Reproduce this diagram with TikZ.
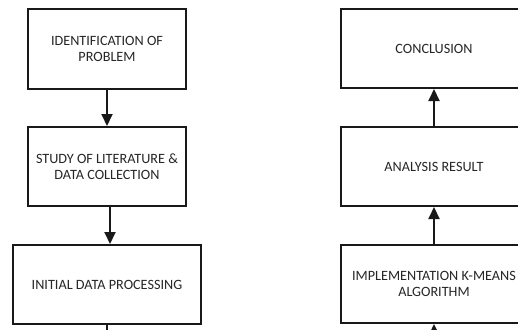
\documentclass[tikz,border=0pt]{standalone}
\usepackage{fontspec}
\setmainfont{Carlito}
\usetikzlibrary{arrows.meta}
\begin{document}
\begin{tikzpicture}[x=1pt,y=-1pt,
  box/.style={draw=black!90, line width=2pt, rectangle, align=center, inner sep=0pt,
    font=\fontsize{14.2}{16}\selectfont, text=black!85},
  conn/.style={line width=2pt, draw=black!90, -{Triangle[length=12pt,width=11pt]}},
  plain/.style={line width=2pt, draw=black!90}]
\useasboundingbox (0,0) rectangle (518,329);
\clip (0,0) rectangle (518,329);
\fill[white] (0,0) rectangle (518,329);
\node[box, minimum width=158pt, minimum height=80pt] (b1) at (107,49) {IDENTIFICATION OF\\PROBLEM};
\node[box, minimum width=158pt, minimum height=79pt] (b2) at (107,166.5) {STUDY OF LITERATURE \&\\DATA COLLECTION};
\node[box, minimum width=188pt, minimum height=79pt] (b3) at (107,284.5) {INITIAL DATA PROCESSING};
\node[box, minimum width=186pt, minimum height=79pt] (r1) at (434,48.5) {CONCLUSION};
\node[box, minimum width=186pt, minimum height=79pt] (r2) at (434,166.5) {ANALYSIS RESULT};
\node[box, minimum width=186pt, minimum height=78pt] (r3) at (434,284) {IMPLEMENTATION K-MEANS\\ALGORITHM};
\coordinate (lb) at (107,345);
\coordinate (rb) at (434,345);
\draw[conn] (b1.south) -- (b2.north);
\draw[conn] ([xshift=3pt]b2.south) -- ([xshift=3pt]b3.north);
\draw[plain] (b3.south) -- (lb);
\draw[conn] (rb) -- (r3.south);
\draw[conn] (r3.north) -- (r2.south);
\draw[conn] (r2.north) -- (r1.south);
\end{tikzpicture}
\end{document}
